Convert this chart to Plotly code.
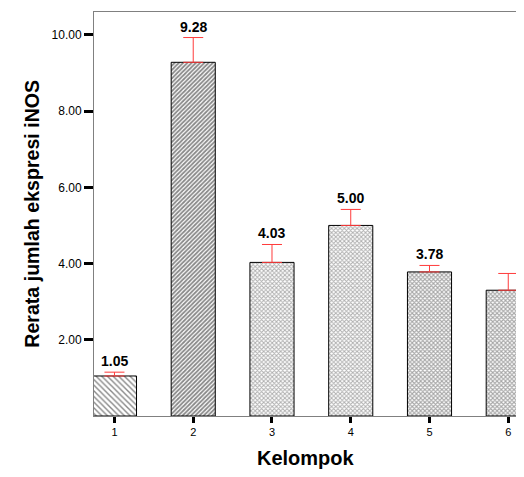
import plotly.graph_objects as go

categories = [1, 2, 3, 4, 5, 6]
means = [1.05, 9.28, 4.03, 5.00, 3.78, 3.30]
err_upper = [0.10, 0.65, 0.47, 0.42, 0.17, 0.44]
value_labels = ["1.05", "9.28", "4.03", "5.00", "3.78", ""]
y_ticks = [2, 4, 6, 8, 10]
y_tick_labels = ["2.00", "4.00", "6.00", "8.00", "10.00"]

shapes = ["\\", "/", "x", "x", "x", "x"]
sizes = [4, 3, 3, 3, 3, 3]
fg = ["#111111", "#111111", "#606060", "#606060", "#505050", "#505050"]
solid = [0.35, 0.6, 0.55, 0.55, 0.6, 0.6]

fig = go.Figure()
fig.add_trace(go.Bar(
    x=categories, y=means, width=0.56,
    marker=dict(color="white", line=dict(color="black", width=1),
                pattern=dict(shape=shapes, size=sizes, fgcolor=fg, bgcolor="white", solidity=solid)),
    error_y=dict(type="data", symmetric=False, array=err_upper, arrayminus=[0]*6,
                 color="#ff3b3b", thickness=1, width=10),
    showlegend=False,
))

for c, m, e, t in zip(categories, means, err_upper, value_labels):
    if t:
        fig.add_annotation(x=c, y=m + e, text="<b>" + t + "</b>", showarrow=False,
                           yanchor="bottom", yshift=1,
                           font=dict(family="Liberation Sans, Arial", size=14, color="black"))

fig.add_annotation(xref="paper", yref="paper", x=-0.175, y=0.5, textangle=-90,
                   text="<b>Rerata jumlah ekspresi iNOS</b>", showarrow=False,
                   font=dict(family="Liberation Sans, Arial", size=19.6, color="black"))
fig.add_annotation(xref="paper", yref="paper", x=0.494, y=-0.105, yanchor="middle",
                   text="<b>Kelompok</b>", showarrow=False,
                   font=dict(family="Liberation Sans, Arial", size=20, color="black"))

fig.update_layout(
    width=516, height=469,
    margin=dict(l=86, r=0, t=4, b=61),
    plot_bgcolor="white", paper_bgcolor="white",
    font=dict(family="Liberation Sans, Arial", color="black"),
    xaxis=dict(range=[0.74, 6.2], tickmode="array", tickvals=categories,
               ticktext=[str(c) for c in categories],
               showline=True, linecolor="#808080", linewidth=1, mirror=True,
               ticks="outside", ticklen=6, tickwidth=3, tickcolor="black",
               showgrid=False, zeroline=False, tickfont=dict(size=11)),
    yaxis=dict(range=[0, 10.6], tickmode="array", tickvals=y_ticks, ticktext=y_tick_labels,
               showline=True, linecolor="#808080", linewidth=1,
               ticks="outside", ticklen=9, tickwidth=3, tickcolor="black",
               showgrid=False, zeroline=False, tickfont=dict(size=12)),
    bargap=0.44,
)

fig.write_html("out.html")
